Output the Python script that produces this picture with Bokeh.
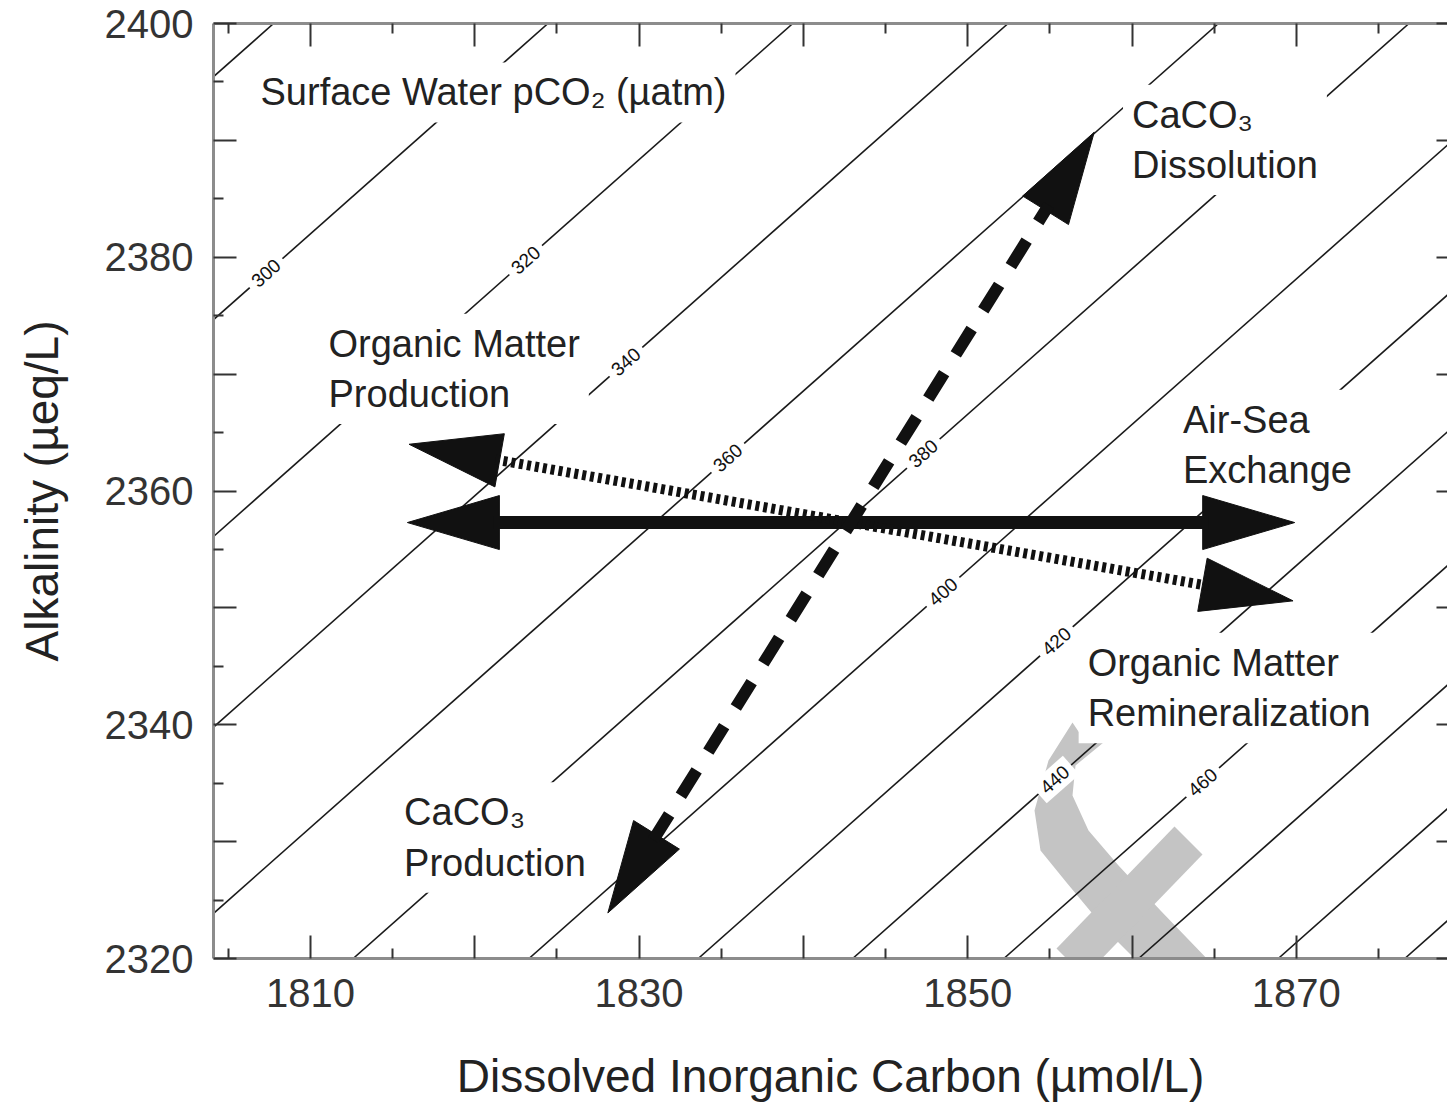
import math

from bokeh.core.properties import value
from bokeh.embed import file_html
from bokeh.models import (CustomLabelingPolicy, FixedTicker, Label, LinearAxis,
                          PolyAnnotation, Range1d)
from bokeh.plotting import figure
from bokeh.resources import INLINE

# --- surface-water pCO2 isolines (µatm) -------------------------------------
# DIC (µmol/L) where each isoline meets Alk = 2320 µeq/L, plus the common slope
pco2_levels = [280, 300, 320, 340, 360, 380, 400, 420, 440, 460, 480, 500, 520]
dic_at_2320 = [1743.5, 1760.2, 1775.1, 1788.2, 1801.0, 1812.6, 1823.3,
               1833.6, 1843.0, 1852.2, 1860.4, 1868.9, 1876.6]
isoline_slope = 1.245  # dAlk / dDIC along an isoline

# inline isoline labels: level and DIC at which the label sits
label_levels = [300, 320, 340, 360, 380, 400, 420, 440, 460]
label_dic = [1807.3, 1823.1, 1829.2, 1835.4, 1847.3, 1848.5, 1855.4, 1855.3, 1864.3]

# --- process vectors from a common starting water ---------------------------
origin_dic = 1842.9
origin_alk = 2357.3
process_names = ["Air-Sea Exchange", "Organic Matter", "CaCO3"]
process_d_dic = [27.0, -26.9, 14.8]
process_d_alk = [0.0, 6.7, 33.4]

# --- axes ---------------------------------------------------------------------
x_major = [1810, 1820, 1830, 1840, 1850, 1860, 1870]
x_minor = [1805, 1815, 1825, 1835, 1845, 1855, 1865, 1875]
y_major = [2320, 2330, 2340, 2350, 2360, 2370, 2380, 2390, 2400]
y_minor = [2325, 2335, 2345, 2355, 2365, 2375, 2385, 2395]

X0, X1 = 1804.1, 1879.2
Y0, Y1 = 2320.0, 2400.0

W, H = 1447, 1107
B_LEFT, B_RIGHT, B_TOP, B_BOTTOM = 213, 0, 23, 149
FONT = "Liberation Sans"

p = figure(width=W, height=H, x_range=Range1d(X0, X1), y_range=Range1d(Y0, Y1),
           output_backend="svg", toolbar_location=None,
           min_border_left=B_LEFT, min_border_right=B_RIGHT,
           min_border_top=B_TOP, min_border_bottom=B_BOTTOM,
           background_fill_color="white", border_fill_color="white")
p.outline_line_color = None
p.grid.visible = False

# pixels per data unit, used to build arrowheads and label angles
sx = (W - B_LEFT - B_RIGHT) / (X1 - X0)
sy = (H - B_TOP - B_BOTTOM) / (Y1 - Y0)


def canvas_to_data(cx, cy):
    return X0 + (cx - B_LEFT) / sx, Y1 - (cy - B_TOP) / sy


# every other major tick carries a number; the frame's top/right carry none
EVERY_OTHER = CustomLabelingPolicy(
    code="for (const i of indices) { if (i % 2 == 1) indices.unset(i) } return indices")
NO_LABELS = CustomLabelingPolicy(
    code="for (const i of indices) { indices.unset(i) } return indices")


def frame_axis(ax, ticks, minor, show_text):
    ax.ticker = FixedTicker(ticks=ticks, minor_ticks=minor)
    ax.axis_line_color = "#8c8c8c"
    ax.axis_line_width = 3
    ax.major_tick_in = 23
    ax.major_tick_out = 0
    ax.minor_tick_in = 10
    ax.minor_tick_out = 0
    ax.major_tick_line_color = "#333333"
    ax.major_tick_line_width = 2
    ax.minor_tick_line_color = "#333333"
    ax.minor_tick_line_width = 2
    if show_text:
        ax.major_label_policy = EVERY_OTHER
        ax.major_label_text_font = FONT
        ax.major_label_text_font_size = "40px"
        ax.major_label_text_color = "#333333"
        ax.axis_label_text_font = FONT
        ax.axis_label_text_font_style = "normal"
        ax.axis_label_text_font_size = "46px"
        ax.axis_label_text_color = "#222222"
    else:
        ax.major_label_policy = NO_LABELS
        ax.major_label_text_font_size = "0px"
        ax.major_label_standoff = 0
        ax.axis_label = None


xb = p.xaxis[0]
frame_axis(xb, x_major, x_minor, True)
xb.axis_label = "Dissolved Inorganic Carbon (µmol/L)"
xb.major_label_standoff = 20
xb.axis_label_standoff = 40

yl = p.yaxis[0]
frame_axis(yl, y_major, y_minor, True)
yl.axis_label = "Alkalinity (µeq/L)"
yl.major_label_standoff = 20
yl.axis_label_standoff = 34

xt = LinearAxis()
frame_axis(xt, x_major, x_minor, False)
p.add_layout(xt, "above")

# the right-hand frame edge falls just past the page edge: only the inner
# ends of its major ticks show
yr = LinearAxis()
frame_axis(yr, y_major, y_minor, False)
yr.axis_line_color = None
yr.major_tick_in = 11
yr.minor_tick_in = 0
p.add_layout(yr, "right")

# --- grey logo stamp in the lower right (outline given in canvas pixels) ----
stamp_outlines = [
    # curved stroke with its hooked top
    [(1072, 722), (1048, 760), (1034, 810), (1040, 850), (1066, 882), (1106, 930),
     (1196, 1020), (1283, 1107), (1355, 1107), (1266, 1020), (1160, 910),
     (1118, 865), (1088, 830), (1072, 795), (1075, 765), (1103, 742), (1082, 737)],
    # cross stroke
    [(1202, 854), (1174, 826), (1056, 948), (1084, 976)],
]
for outline in stamp_outlines:
    pts = [canvas_to_data(cx, cy) for cx, cy in outline]
    p.add_layout(PolyAnnotation(xs=[q[0] for q in pts], ys=[q[1] for q in pts],
                                fill_color="#c4c4c4", fill_alpha=1.0,
                                line_color=None, level="underlay"))

# --- isolines -----------------------------------------------------------------
x_start = dic_at_2320
x_end = [d + (Y1 - Y0) / isoline_slope for d in dic_at_2320]
p.segment(x0=x_start, y0=[Y0] * len(x_start), x1=x_end, y1=[Y1] * len(x_end),
          line_color="#1a1a1a", line_width=1.6)

# labels sit on their isoline and follow its direction
base = dict(zip(pco2_levels, dic_at_2320))
label_alk = [Y0 + isoline_slope * (d - base[lv]) for lv, d in zip(label_levels, label_dic)]
angle = math.atan(isoline_slope * sy / sx)
p.text(x=label_dic, y=label_alk, text=[str(v) for v in label_levels], angle=angle,
       text_font=value(FONT), text_font_size="19px", text_color="#111111",
       text_align="center", text_baseline="middle",
       background_fill_color="white", padding=6)

# --- text annotations with white boxes (they interrupt the isolines) ----------
PAD = 9
notes = [
    (1806.96, 2395.9, "Surface Water pCO₂ (µatm)"),
    (1811.1, 2374.4, "Organic Matter\nProduction"),
    (1860.0, 2394.0, "CaCO₃\nDissolution"),
    (1863.1, 2367.9, "Air-Sea\nExchange"),
    (1857.3, 2347.1, "Organic Matter\nRemineralization"),
    (1815.7, 2334.3, "CaCO₃\nProduction"),
]
for nx, ny, txt in notes:
    # the box corner sits PAD px outside the text's top-left corner
    p.add_layout(Label(x=nx - PAD / sx, y=ny + PAD / sy, text=txt,
                       text_font=FONT, text_font_size="38px",
                       text_color="#222222", text_align="left", text_baseline="top",
                       text_line_height=1.2, background_fill_color="white", padding=PAD))

# --- process arrows -----------------------------------------------------------
HEAD_LEN = 92.0   # px
HEAD_HALF = 27.0  # px
shaft_styles = [
    dict(line_width=13, line_dash="solid"),
    dict(line_width=10, line_dash="4 4"),
    dict(line_width=12, line_dash="30 22"),
]


def offset(px_dx, px_dy):
    return px_dx / sx, px_dy / sy


for dd, da, style in zip(process_d_dic, process_d_alk, shaft_styles):
    vx, vy = dd * sx, da * sy
    n = math.hypot(vx, vy)
    ux, uy = vx / n, vy / n
    backs = []
    for sign in (1, -1):
        tx, ty = origin_dic + sign * dd, origin_alk + sign * da
        bdx, bdy = offset(-sign * ux * HEAD_LEN, -sign * uy * HEAD_LEN)
        bx, by = tx + bdx, ty + bdy
        pdx, pdy = offset(-uy * HEAD_HALF, ux * HEAD_HALF)
        p.patch(x=[tx, bx + pdx, bx - pdx], y=[ty, by + pdy, by - pdy],
                fill_color="#111111", line_color="#111111", line_width=1, level="overlay")
        idx, idy = offset(sign * ux * 6, sign * uy * 6)
        backs.append((bx + idx, by + idy))
    p.line(x=[backs[1][0], backs[0][0]], y=[backs[1][1], backs[0][1]],
           line_color="#111111", line_cap="butt", level="overlay", **style)

open("out.html", "w").write(file_html(p, INLINE))
